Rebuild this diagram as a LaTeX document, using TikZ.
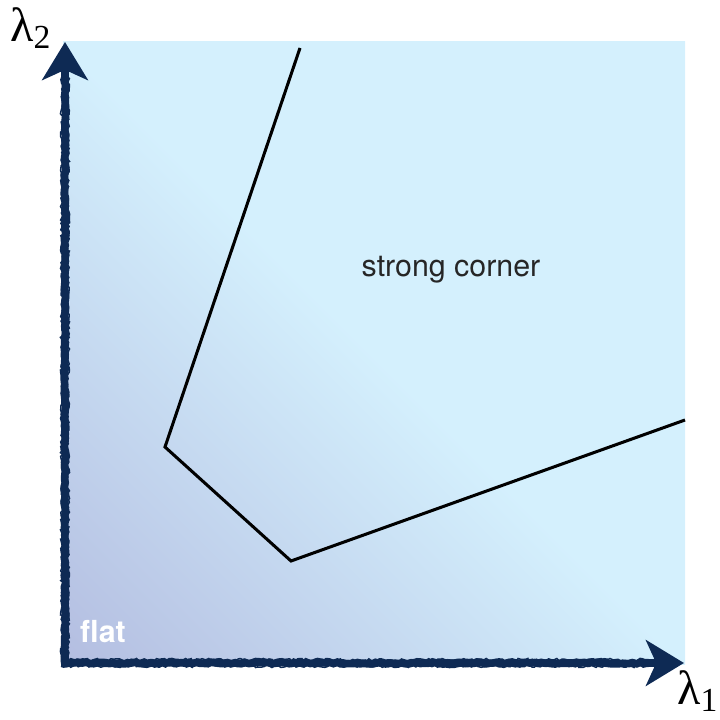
\documentclass[tikz,border=0pt]{standalone}
\usepackage{fontspec}
\setsansfont{TeX Gyre Heros}
\newfontfamily\lamfont{Liberation Serif}
\usetikzlibrary{arrows.meta,decorations.pathmorphing}
\definecolor{flatblue}{RGB}{180,190,225}
\definecolor{cornerblue}{RGB}{212,240,253}
\definecolor{axisnavy}{RGB}{14,42,84}
\pgfdeclarehorizontalshading{flatcorner}{100bp}{color(0bp)=(flatblue); color(15bp)=(flatblue); color(50bp)=(cornerblue); color(100bp)=(cornerblue)}
\tikzset{
  axisline/.style={axisnavy, line width=3pt, line cap=butt, decorate,
    decoration={random steps, segment length=1.5pt, amplitude=0.35pt, pre length=1pt, post length=16pt},
    -{Stealth[length=15pt,width=18pt,inset=4pt]}},
  axisrough/.style={axisnavy, line width=0.6pt, decorate,
    decoration={random steps, segment length=1pt, amplitude=0.5pt}},
  lam/.style={font=\lamfont\fontsize{19}{22}\selectfont, inner sep=0pt}
}
\begin{document}
\begin{tikzpicture}[x=1cm/72,y=1cm/72]
  \useasboundingbox (0,0) rectangle (720,720);
  \path
  (61,57) coordinate (O)
  (684,57) coordinate (X)
  (65,53) coordinate (O')
  (65,678) coordinate (Y)
  (63,55) coordinate (SW)
  (685,678) coordinate (NE)
  (300,672) coordinate (A)
  (165,273) coordinate (B)
  (291,159) coordinate (C)
  (685,300) coordinate (D)
  ;
  \shade[shading=flatcorner,shading angle=45] (SW) rectangle (NE);
  \draw[line width=1.2pt] (A)--(B)--(C)--(D);
  \draw[axisline] (O)--(X);
  \draw[axisline] (O')--(Y);
  % ragged brush edges
  \foreach \d in {-1.3pt,1.3pt}{
    \draw[axisrough] ([yshift=\d]O) -- ([xshift=-14pt,yshift=\d]X);
    \draw[axisrough] ([xshift=\d]O') -- ([yshift=-14pt,xshift=\d]Y);
  }
  \node[lam] at (31,692) {λ\textsubscript{2}};
  \node[lam] at (698,29) {λ\textsubscript{1}};
  \node[font=\sffamily\fontsize{12}{14}\selectfont, text=black!85] at (451,450) {strong corner};
  \node[font=\sffamily\bfseries\fontsize{12}{14}\selectfont, text=white] at (103,88) {flat};
\end{tikzpicture}
\end{document}
